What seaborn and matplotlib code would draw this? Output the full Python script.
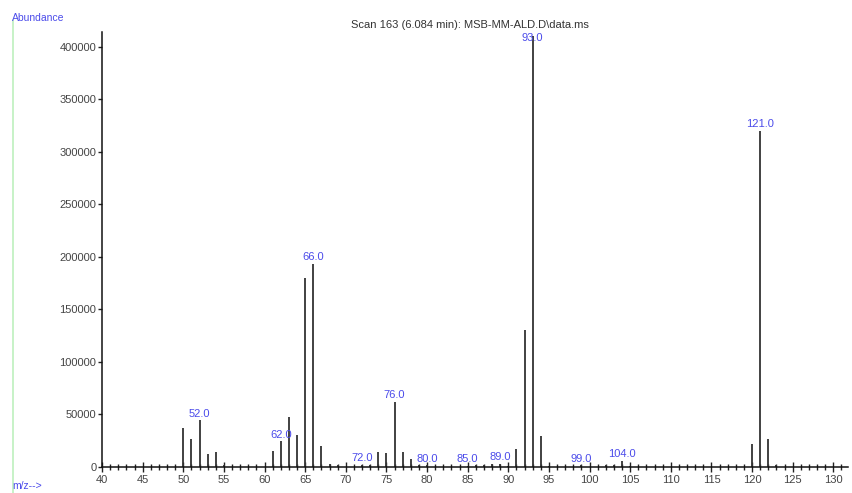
import matplotlib
matplotlib.use("Agg")
import matplotlib.pyplot as plt
from matplotlib.ticker import MultipleLocator
import seaborn as sns
import pandas as pd

# m/z and abundance
mz = [50, 51, 52, 53, 54, 55, 61, 62, 63, 64, 65, 66, 67, 68, 69,
      72, 73, 74, 75, 76, 77, 78, 79, 80, 85, 86, 87, 88, 89, 90,
      91, 92, 93, 94, 95, 99, 102, 103, 104, 105, 120, 121, 122, 123]
abundance = [37000, 26500, 44500, 12000, 14000, 2000, 15000, 24500, 48000, 30500,
             180000, 193500, 20000, 3000, 1500,
             2000, 2000, 14000, 13000, 62000, 14000, 7500, 1500, 1500,
             1000, 1500, 2000, 2500, 3000, 1000,
             17500, 130000, 410000, 29500, 1000, 1500, 1500, 1500, 6000, 1000,
             21500, 320000, 26500, 2000]
labelled = [52, 62, 66, 72, 76, 80, 85, 89, 93, 99, 104, 121]

title = "Scan 163 (6.084 min): MSB-MM-ALD.D\\data.ms"
blue = "#4b4bea"

spec = pd.DataFrame({"mz": mz, "abundance": abundance})

sns.set_style("ticks")
plt.rcParams["font.family"] = ["Liberation Sans", "DejaVu Sans"]
plt.rcParams["font.size"] = 8

fig = plt.figure(figsize=(8.52, 4.93), dpi=100)
ax = fig.add_axes([102 / 852, 1 - 467 / 493, 746 / 852, 435 / 493])

ax.vlines(spec["mz"], 0, spec["abundance"], color="#333333", linewidth=1.3)

top = 414000
for m in labelled:
    h = spec.loc[spec["mz"] == m, "abundance"].iloc[0]
    ax.text(m, min(h + 1500, 404000), f"{m:.1f}", color=blue,
            ha="center", va="bottom", fontsize=8)

ax.set_xlim(40, 131.8)
ax.set_ylim(0, top)
ax.xaxis.set_major_locator(MultipleLocator(5))
ax.xaxis.set_minor_locator(MultipleLocator(1))
ax.yaxis.set_major_locator(MultipleLocator(50000))
ax.tick_params(axis="x", which="major", direction="inout", length=7, width=1,
               colors="#222222", labelcolor="#444444", pad=2)
ax.tick_params(axis="x", which="minor", direction="inout", length=4, width=1,
               colors="#222222")
ax.tick_params(axis="y", direction="out", length=3, width=1, colors="#222222",
               labelcolor="#444444", pad=1)
sns.despine(ax=ax)
for s in ["left", "bottom"]:
    ax.spines[s].set_linewidth(1.1)
    ax.spines[s].set_color("#111111")

fig.text(470 / 852, 1 - 25 / 493, title, ha="center", va="center",
         fontsize=8, color="#333333")
fig.text(12 / 852, 1 - 18 / 493, "Abundance", ha="left", va="center",
         fontsize=7.5, color=blue)
fig.text(12 / 852, 1 - 486 / 493, "m/z-->", ha="left", va="center",
         fontsize=7.5, color=blue)
fig.add_artist(plt.Line2D([13 / 852, 13 / 852], [0, 1 - 20 / 493],
                          transform=fig.transFigure, color="#bdf0bd", linewidth=1.2))

fig.savefig("out.png", dpi=100)
